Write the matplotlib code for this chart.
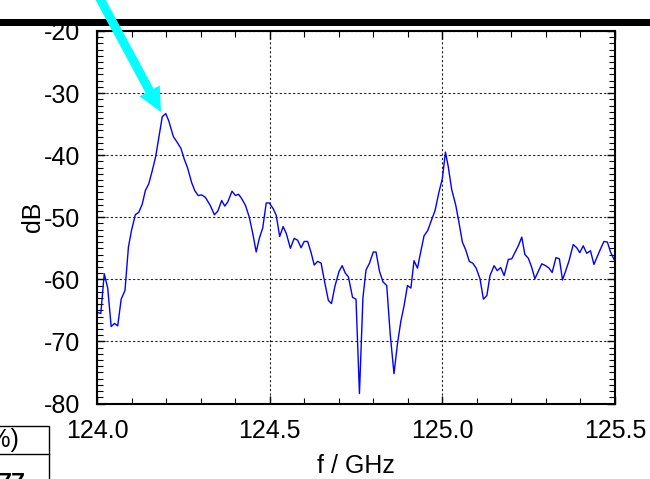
import numpy as np
import matplotlib
matplotlib.use("Agg")
import matplotlib.pyplot as plt
from matplotlib.patches import Rectangle, FancyArrow
from matplotlib.ticker import MultipleLocator
from matplotlib.transforms import Affine2D

plt.rcParams['font.family'] = ['Liberation Sans', 'DejaVu Sans']
plt.rcParams['axes.unicode_minus'] = False

# spectrum
freq = [124.000, 124.011, 124.021, 124.031, 124.041, 124.051, 124.060, 124.070,
        124.081, 124.091, 124.100, 124.111, 124.121, 124.131, 124.140, 124.150,
        124.160, 124.170, 124.179, 124.189, 124.199, 124.208, 124.221, 124.233,
        124.243, 124.253, 124.262, 124.274, 124.283, 124.293, 124.303, 124.314,
        124.328, 124.340, 124.350, 124.361, 124.370, 124.379, 124.391, 124.401,
        124.410, 124.420, 124.430, 124.441, 124.451, 124.461, 124.470, 124.480,
        124.490, 124.499, 124.510, 124.519, 124.529, 124.539, 124.548, 124.560,
        124.571, 124.581, 124.591, 124.600, 124.610, 124.620, 124.629, 124.639,
        124.649, 124.658, 124.670, 124.679, 124.689, 124.701, 124.710, 124.719,
        124.728, 124.740, 124.750, 124.760, 124.770, 124.779, 124.789, 124.800,
        124.808, 124.818, 124.828, 124.839, 124.849, 124.860, 124.870, 124.880,
        124.889, 124.899, 124.909, 124.918, 124.928, 124.938, 124.947, 124.958,
        124.967, 124.979, 124.990, 125.000, 125.009, 125.017, 125.027, 125.039,
        125.048, 125.058, 125.068, 125.078, 125.088, 125.098, 125.109, 125.119,
        125.129, 125.138, 125.150, 125.159, 125.169, 125.179, 125.191, 125.201,
        125.210, 125.220, 125.230, 125.239, 125.249, 125.259, 125.268, 125.278,
        125.288, 125.299, 125.309, 125.318, 125.329, 125.339, 125.348, 125.358,
        125.367, 125.379, 125.389, 125.398, 125.408, 125.418, 125.429, 125.439,
        125.448, 125.458, 125.468, 125.478, 125.487, 125.500]
level = [-65.3, -65.5, -59.1, -61.4, -67.6, -67.1, -67.5, -63.2,
         -61.8, -54.8, -52.1, -49.6, -49.2, -47.9, -45.7, -44.6,
         -42.5, -40.2, -37.2, -33.8, -33.3, -34.5, -37.0, -38.0,
         -38.9, -40.7, -42.0, -44.4, -45.7, -46.5, -46.4, -46.8,
         -48.1, -49.6, -49.0, -47.3, -48.2, -47.5, -45.8, -46.5,
         -46.3, -47.1, -48.1, -50.0, -52.6, -55.6, -53.4, -51.7,
         -47.7, -47.7, -48.6, -49.7, -53.1, -51.5, -52.6, -55.0,
         -53.4, -53.7, -54.9, -53.9, -53.9, -55.7, -57.7, -57.1,
         -57.4, -60.1, -63.4, -63.9, -61.1, -58.7, -57.8, -59.0,
         -59.6, -62.9, -63.2, -78.4, -63.0, -58.5, -57.4, -55.6,
         -55.6, -58.7, -60.4, -61.0, -68.8, -75.2, -70.4, -66.7,
         -64.3, -61.0, -61.4, -57.0, -58.2, -55.4, -53.0, -52.1,
         -50.7, -48.9, -46.0, -43.8, -39.5, -41.8, -45.5, -48.1,
         -50.8, -54.0, -55.3, -57.1, -57.4, -58.2, -59.9, -63.2,
         -62.6, -59.4, -57.8, -58.6, -58.1, -59.4, -56.8, -56.7,
         -55.7, -54.6, -53.2, -56.0, -56.6, -58.1, -59.9, -58.7,
         -57.5, -57.8, -58.2, -58.9, -56.5, -56.7, -60.1, -58.5,
         -57.0, -54.4, -54.9, -55.7, -54.6, -55.8, -55.4, -57.6,
         -56.4, -55.1, -53.9, -54.0, -55.6, -57.1]

xticks = [124.0, 124.5, 125.0, 125.5]
xticklabels = ['124.0', '124.5', '125.0', '125.5']
yticks = [-80, -70, -60, -50, -40, -30, -20]

W, H = 650, 479
fig = plt.figure(figsize=(W / 100, H / 100), dpi=100)
ax = fig.add_axes([97 / W, (H - 403.5) / H, 518 / W, 372.5 / H])

ax.plot(freq, level, color='#0000ff', lw=1.0)

ax.set_xlim(124.0, 125.5)
ax.set_ylim(-80, -20)
ax.set_xticks(xticks)
ax.set_xticklabels(xticklabels)
ax.set_yticks(yticks)
ax.xaxis.set_minor_locator(MultipleLocator(0.1))
ax.yaxis.set_minor_locator(MultipleLocator(1))
ax.tick_params(which='both', direction='in', top=True, right=True, labelsize=18)
ax.tick_params(which='major', length=6, width=1.0)
ax.tick_params(which='minor', length=4, width=0.8)
ax.tick_params(axis='x', pad=11)
ax.tick_params(axis='y', pad=12)
ax.grid(True, which='major', color='#222222', lw=0.8, linestyle=(0, (2, 2)))
for s in ax.spines.values():
    s.set_linewidth(1.5)

ax.set_xlabel('f / GHz', fontsize=18, labelpad=8)
ax.set_ylabel('dB', fontsize=18, labelpad=-1)

# pixel coordinates for the overlay bits
px = Affine2D().scale(1 / 100) + fig.dpi_scale_trans

# thick black bar across the top
fig.add_artist(Rectangle((0, H - 26), W, 7, transform=px, color='black', lw=0))

# cyan arrow pointing at the first peak
arr = FancyArrow(98, H + 5, 63, -117, width=9, head_width=23, head_length=24,
                 length_includes_head=True, color='#00ffff', lw=0, transform=px)
fig.add_artist(arr)

# cut-off table in the bottom-left corner
fig.add_artist(Rectangle((-5, -5), 54.3, H - 426 + 5, transform=px,
                         facecolor='none', edgecolor='black', lw=1.0))
fig.add_artist(plt.Line2D([-5, 49.3], [H - 454, H - 454], transform=px,
                          color='black', lw=1.0))
fig.text(19.5, H - 440, '(%)', transform=px, ha='right', va='center', fontsize=18)
fig.text(26, H - 472, '77', transform=px, ha='right', va='top', fontsize=18,
         fontweight='bold')

fig.savefig('out.png', dpi=100)
